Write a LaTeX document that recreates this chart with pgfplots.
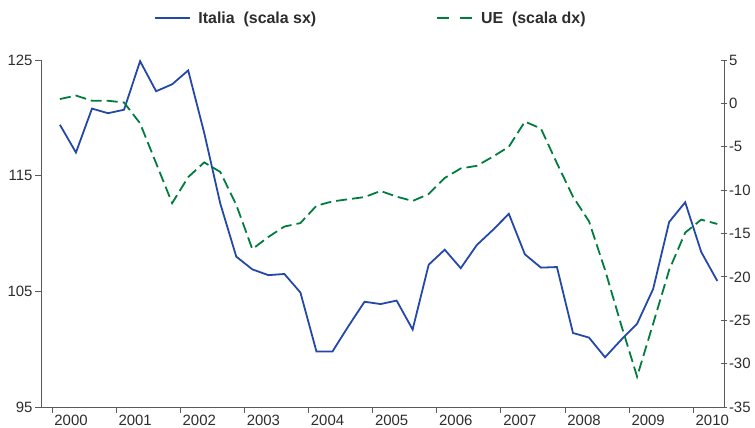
\documentclass[border=0pt]{standalone}
\usepackage{pgfplots}
\pgfplotsset{compat=1.18}
\usepackage{pgfplotstable}
\usepackage{fontspec}
\setmainfont{Liberation Sans}
\definecolor{itblue}{RGB}{36,72,170}
\definecolor{uegreen}{RGB}{0,124,62}
\definecolor{axgray}{RGB}{90,90,90}
\definecolor{txt}{RGB}{45,45,45}

% quarterly data, x = mid-quarter
\pgfplotstableread{
x        it      ue
2000.125 119.4   0.5
2000.375 117.0   0.9
2000.625 120.8   0.3
2000.875 120.4   0.3
2001.125 120.7   0.1
2001.375 124.9  -2.3
2001.625 122.3  -6.9
2001.875 122.9 -11.5
2002.125 124.1  -8.5
2002.375 118.7  -6.8
2002.625 112.6  -7.9
2002.875 108.0 -11.7
2003.125 106.9 -16.8
2003.375 106.4 -15.4
2003.625 106.5 -14.2
2003.875 104.9 -13.8
2004.125  99.8 -11.8
2004.375  99.8 -11.3
2004.625 102.0 -11.05
2004.875 104.1 -10.8
2005.125 103.9 -10.1
2005.375 104.2 -10.75
2005.625 101.7 -11.25
2005.875 107.3 -10.45
2006.125 108.6  -8.6
2006.375 107.0  -7.5
2006.625 109.0  -7.2
2006.875 110.3  -6.15
2007.125 111.7  -5.0
2007.375 108.2  -2.1
2007.625 107.05 -2.9
2007.875 107.1  -6.9
2008.125 101.4 -10.75
2008.375 101.0 -13.6
2008.625  99.3 -19.2
2008.875 100.8 -25.5
2009.125 102.2 -31.5
2009.375 105.2 -25.4
2009.625 111.0 -19.2
2009.875 112.7 -14.9
2010.125 108.4 -13.4
2010.375 105.9 -13.9
}\data

\begin{document}
\begin{tikzpicture}
\pgfplotsset{
  base/.style={
    scale only axis, width=683bp, height=347bp,
    xmin=1999.83, xmax=2010.48,
    tick label style={font=\fontsize{15}{17}\selectfont, text=txt},
    /pgf/number format/assume math mode=true,
    axis line style={axgray, line width=0.9pt},
    tick style={axgray, line width=0.8pt},
  }
}
\begin{axis}[base,
  ymin=95, ymax=125, ytick={95,105,115,125},
  axis x line*=bottom, axis y line*=left,
  xtick={2000,...,2010},
  xticklabels={2000,2001,2002,2003,2004,2005,2006,2007,2008,2009,2010},
  xticklabel style={anchor=north west, xshift=-1bp, yshift=1bp},
  minor x tick num=3,
  x axis line style={-},
  y axis line style={-},
  tick align=outside,
  major tick length=6bp, minor tick length=3.5bp,
  yticklabel style={xshift=1bp},
]
\addplot[itblue, line width=1.8pt] table[x=x, y=it] {\data};
\end{axis}
\begin{axis}[base,
  ymin=-35, ymax=5, ytick={-35,-30,...,5},
  axis x line=none, axis y line*=right,
  y axis line style={-},
  tick align=center, major tick length=7bp,
  yticklabel style={xshift=-2bp},
  legend style={at={(0.487,1)}, anchor=south, yshift=31bp, draw=none,
    font=\bfseries\fontsize{16}{18}\selectfont, text=txt,
    legend columns=2, /tikz/every even column/.append style={column sep=112bp},
    nodes={inner xsep=8bp}},
  legend image code/.code={\draw[#1] (0bp,0bp) -- (35bp,0bp);},
]
\addlegendimage{itblue, line width=1.8pt}
\addlegendentry{Italia\ \ (scala sx)}
\addplot[uegreen, line width=1.8pt, dash pattern=on 11bp off 5bp, forget plot] table[x=x, y=ue] {\data};
\addlegendimage{uegreen, line width=1.8pt, dash pattern=on 12bp off 11bp}
\addlegendentry{UE\ \ (scala dx)}
\end{axis}
\pgfresetboundingbox
\useasboundingbox (-41bp,-21bp) rectangle (714bp,407bp);
\end{tikzpicture}
\end{document}
